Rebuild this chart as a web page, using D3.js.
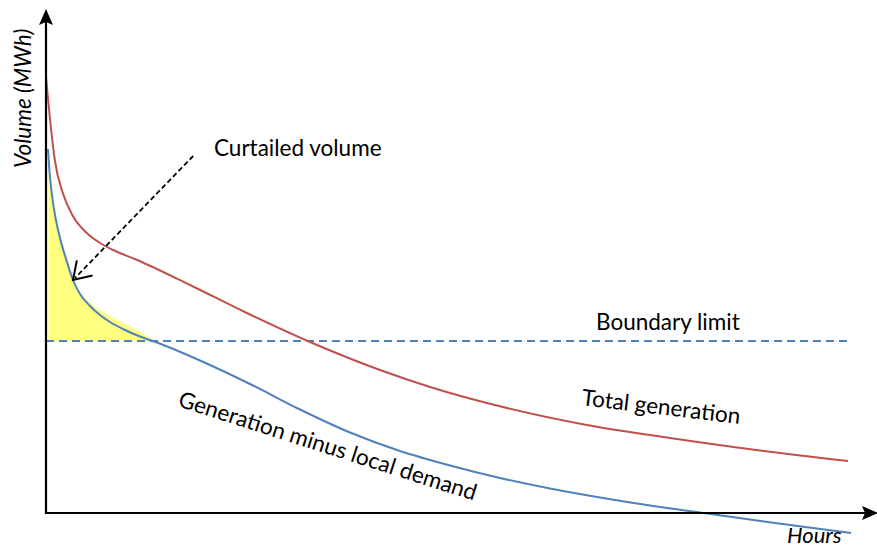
<!DOCTYPE html>
<html>
<head>
<meta charset="utf-8">
<script src="https://cdn.jsdelivr.net/npm/d3@7"></script>
<style>
  html, body { margin: 0; padding: 0; background: #fff; }
  svg { display: block; }
  text { font-family: Lato, "Open Sans", sans-serif; fill: #000; }
</style>
</head>
<body>
<svg id="chart" width="877" height="549"></svg>
<script>
// Hours (arbitrary units 0..100) and volume (arbitrary units)
const totalHours = [0, 0.6, 1.1, 2.1, 3.4, 5.1, 6.75, 8.4, 11.4, 18, 25.1, 33, 41.75, 48, 57.1, 67.6, 78, 89.25, 100.25];
const totalGen   = [87.2, 77.3, 70.6, 64, 59.3, 56, 54, 52.6, 50.6, 45.6, 40, 34.2, 28.6, 25.2, 21.2, 17.6, 15, 12.5, 10.4];

const netHours   = [0.25, 0.375, 0.5, 0.75, 1.125, 1.75, 2.625, 3.375, 4.25, 5.5, 6.75, 8, 9.875, 11.75, 13.875,
                    19.25, 25.5, 31.75, 38, 44.25, 50.5, 56.75, 63, 69.25, 75.5, 81.75, 91.125, 100.625];
const netGen     = [72.8, 69.6, 67.2, 63.6, 59.6, 55, 50.2, 46.6, 43.8, 41.4, 39.6, 38.2, 36.6, 35.3, 34.1,
                    30.5, 25.8, 20.7, 16.1, 12.4, 9.5, 7, 4.9, 3.1, 1.5, 0.1, -2, -4];

const curtailHours = [0.3, 0.5, 0.75, 1.125, 1.75, 2.625, 3.375, 4.25, 5.5, 6.75, 8, 9.875, 11.75, 13, 13.625];
const curtailEdge  = [68, 67.2, 63.6, 59.6, 55, 50.2, 46.6, 44, 42, 40.6, 39.4, 37.8, 36.2, 35, 34.4];

const boundaryLimit = 34.4;
const boundaryHours = [0, 100.5];

// annotation arrow: [start, tip] in data units
const arrowHours = [18.4, 3.375];
const arrowVol   = [71.4, 46.6];

const labels = {
  y: "Volume (MWh)",
  x: "Hours",
  curtail: "Curtailed volume",
  boundary: "Boundary limit",
  total: "Total generation",
  net: "Generation minus local demand"
};

const svg = d3.select("#chart");
const x = d3.scaleLinear().domain([0, 100]).range([46, 846]);
const y = d3.scaleLinear().domain([0, 100]).range([513, 13]);

const RED = "#C0504D", BLUE = "#4F81BD";

// curtailed area
const area = d3.area()
  .x(d => x(d[0])).y0(y(boundaryLimit)).y1(d => y(d[1]))
  .curve(d3.curveMonotoneX);
svg.append("path")
  .datum(curtailHours.map((h, i) => [h, curtailEdge[i]]))
  .attr("d", area)
  .attr("fill", "#FFFF80");

// boundary limit
svg.append("line")
  .attr("x1", x(boundaryHours[0])).attr("x2", x(boundaryHours[1]))
  .attr("y1", y(boundaryLimit)).attr("y2", y(boundaryLimit))
  .attr("stroke", BLUE).attr("stroke-width", 2)
  .attr("stroke-dasharray", "8,5");

const line = d3.line().x(d => x(d[0])).y(d => y(d[1])).curve(d3.curveMonotoneX);

svg.append("path")
  .datum(totalHours.map((h, i) => [h, totalGen[i]]))
  .attr("d", line).attr("fill", "none")
  .attr("stroke", RED).attr("stroke-width", 2);

svg.append("path")
  .datum(netHours.map((h, i) => [h, netGen[i]]))
  .attr("d", line).attr("fill", "none")
  .attr("stroke", BLUE).attr("stroke-width", 2);

// axes
const x0 = x(0), yb = y(0);
svg.append("line").attr("x1", x0).attr("x2", x0).attr("y1", yb + 1).attr("y2", 20)
  .attr("stroke", "#000").attr("stroke-width", 2.2);
svg.append("line").attr("x1", x0 - 1).attr("x2", 868).attr("y1", yb).attr("y2", yb)
  .attr("stroke", "#000").attr("stroke-width", 2.2);
svg.append("path")
  .attr("d", `M${x0},9 L${x0 + 7},25 L${x0},22 L${x0 - 7},25 Z`)
  .attr("fill", "#000");
svg.append("path")
  .attr("d", `M878,${yb} L862,${yb - 7} L865,${yb} L862,${yb + 7} Z`)
  .attr("fill", "#000");

// annotation arrow
const sx = x(arrowHours[0]), sy = y(arrowVol[0]);
const tx = x(arrowHours[1]), ty = y(arrowVol[1]);
svg.append("line")
  .attr("x1", sx).attr("y1", sy).attr("x2", tx + 2).attr("y2", ty - 2)
  .attr("stroke", "#000").attr("stroke-width", 1.8)
  .attr("stroke-dasharray", "5,3");
const ang = Math.atan2(sy - ty, sx - tx);
const L = 20, spread = 33 * Math.PI / 180;
const a1 = [tx + L * Math.cos(ang - spread), ty + L * Math.sin(ang - spread)];
const a2 = [tx + L * Math.cos(ang + spread), ty + L * Math.sin(ang + spread)];
svg.append("path")
  .attr("d", `M${a1[0]},${a1[1]} L${tx},${ty} L${a2[0]},${a2[1]}`)
  .attr("fill", "none").attr("stroke", "#000").attr("stroke-width", 2)
  .attr("stroke-linejoin", "miter");

// texts
const fs = 22.5;
svg.append("text").attr("x", 214).attr("y", 156).attr("font-size", fs).text(labels.curtail);
svg.append("text").attr("x", 596).attr("y", 330).attr("font-size", fs).text(labels.boundary);
svg.append("text").attr("transform", "translate(581,405) rotate(6.8)").attr("font-size", fs).text(labels.total);
svg.append("text").attr("transform", "translate(177,406) rotate(17.7)").attr("font-size", fs).text(labels.net);
svg.append("text").attr("x", 787).attr("y", 543).attr("font-size", 22).attr("font-style", "italic").text(labels.x);
svg.append("text").attr("transform", "translate(31,168) rotate(-90)").attr("font-size", fs).attr("font-style", "italic").text(labels.y);
</script>
</body>
</html>
